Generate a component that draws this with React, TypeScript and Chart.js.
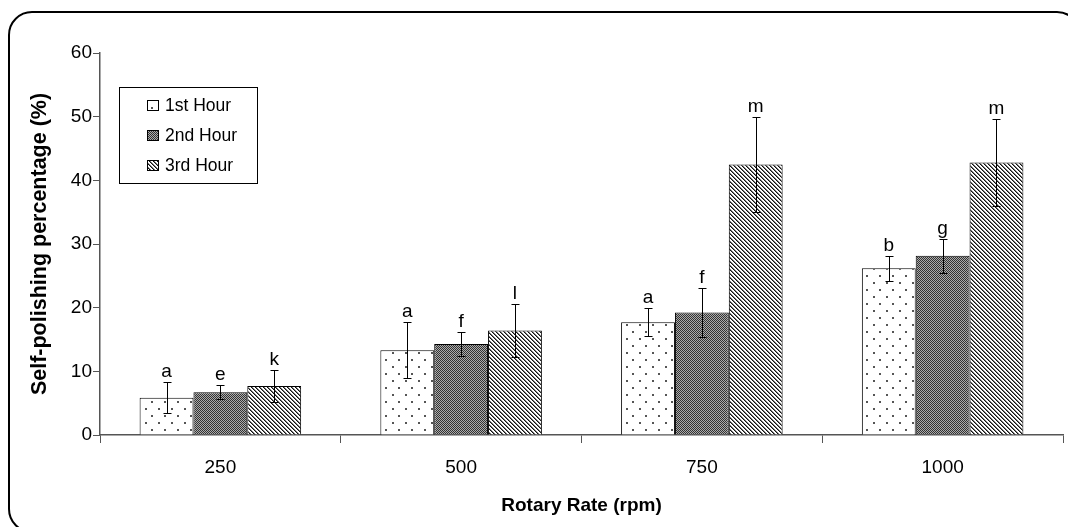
import React, { useEffect, useRef } from "react";
import { Chart, registerables } from "chart.js";

Chart.register(...registerables);

const categories = ["250", "500", "750", "1000"];
const seriesNames = ["1st Hour", "2nd Hour", "3rd Hour"];
const hour1 = [5.85, 13.3, 17.7, 26.2];
const hour2 = [6.7, 14.3, 19.25, 28.15];
const hour3 = [7.7, 16.4, 42.5, 42.8];
const err1 = [2.4, 4.4, 2.2, 1.95];
const err2 = [1.1, 1.85, 3.85, 2.65];
const err3 = [2.5, 4.1, 7.4, 6.8];
const letters1 = ["a", "a", "a", "b"];
const letters2 = ["e", "f", "f", "g"];
const letters3 = ["k", "l", "m", "m"];
const yTicks = [0, 10, 20, 30, 40, 50, 60];

const FONT = "'Liberation Sans', Arial, sans-serif";
const AXIS = "#555555";

function makeTile(w: number, h: number, draw: (c: CanvasRenderingContext2D) => void): CanvasPattern {
  const cv = document.createElement("canvas");
  cv.width = w;
  cv.height = h;
  const c = cv.getContext("2d")!;
  draw(c);
  const p = document.createElement("canvas").getContext("2d")!.createPattern(cv, "repeat")!;
  return p;
}

function makePatterns(): CanvasPattern[] {
  const dots = makeTile(13, 14, (c) => {
    c.fillStyle = "#ffffff";
    c.fillRect(0, 0, 13, 14);
    c.fillStyle = "#555555";
    c.fillRect(2, 2, 2, 2);
    c.fillRect(8, 9, 2, 2);
  });
  const checker = makeTile(2, 2, (c) => {
    c.fillStyle = "#acacac";
    c.fillRect(0, 0, 2, 2);
    c.fillStyle = "#333333";
    c.fillRect(0, 0, 1, 1);
    c.fillRect(1, 1, 1, 1);
  });
  const stripes = makeTile(4, 4, (c) => {
    c.fillStyle = "#ffffff";
    c.fillRect(0, 0, 4, 4);
    for (let i = 0; i < 4; i++) {
      c.fillStyle = "#111111";
      c.fillRect(i, i, 1, 1);
      c.fillStyle = "#777777";
      c.fillRect((i + 1) % 4, i, 1, 1);
    }
  });
  return [dots, checker, stripes];
}

export default function App() {
  const ref = useRef<HTMLCanvasElement | null>(null);

  useEffect(() => {
    const canvas = ref.current;
    if (!canvas) return;
    const patterns = makePatterns();
    const values = [hour1, hour2, hour3];
    const errors = [err1, err2, err3];
    const letters = [letters1, letters2, letters3];

    const framePlugin = {
      id: "frame",
      beforeDraw(chart: any) {
        const ctx = chart.ctx as CanvasRenderingContext2D;
        ctx.save();
        ctx.fillStyle = "#ffffff";
        ctx.fillRect(0, 0, chart.width, chart.height);
        ctx.beginPath();
        (ctx as any).roundRect(9, 12, 1071, 520, 23);
        ctx.lineWidth = 2;
        ctx.strokeStyle = "#000000";
        ctx.stroke();
        ctx.restore();
      },
    };

    const errorPlugin = {
      id: "errorbars",
      afterDatasetsDraw(chart: any) {
        const ctx = chart.ctx as CanvasRenderingContext2D;
        const ys = chart.scales.y;
        ctx.save();
        ctx.strokeStyle = "#000000";
        ctx.lineWidth = 1;
        ctx.fillStyle = "#000000";
        ctx.font = `19px ${FONT}`;
        ctx.textAlign = "center";
        ctx.textBaseline = "alphabetic";
        values.forEach((vals, i) => {
          const meta = chart.getDatasetMeta(i);
          vals.forEach((v, j) => {
            const bar = meta.data[j];
            const x = Math.round(bar.x) + 0.5;
            const yt = Math.round(ys.getPixelForValue(v + errors[i][j])) + 0.5;
            const yb = Math.round(ys.getPixelForValue(v - errors[i][j])) + 0.5;
            ctx.beginPath();
            ctx.moveTo(x, yt);
            ctx.lineTo(x, yb);
            ctx.moveTo(x - 4, yt);
            ctx.lineTo(x + 4, yt);
            ctx.moveTo(x - 4, yb);
            ctx.lineTo(x + 4, yb);
            ctx.stroke();
            ctx.fillText(letters[i][j], bar.x, yt - 6);
          });
        });
        ctx.restore();
      },
    };

    const legendPlugin = {
      id: "insideLegend",
      afterDraw(chart: any) {
        const ctx = chart.ctx as CanvasRenderingContext2D;
        ctx.save();
        ctx.strokeStyle = "#000000";
        ctx.lineWidth = 1;
        ctx.strokeRect(119.5, 87.5, 138, 96);
        ctx.font = `17.5px ${FONT}`;
        ctx.textBaseline = "middle";
        ctx.textAlign = "left";
        seriesNames.forEach((name, i) => {
          const cy = 105 + i * 30;
          ctx.fillStyle = patterns[i];
          ctx.fillRect(147, cy - 5, 12, 11);
          ctx.strokeStyle = "#000000";
          ctx.strokeRect(147.5, cy - 4.5, 11, 10);
          ctx.fillStyle = "#000000";
          ctx.fillText(name, 165, cy + 1);
        });
        ctx.restore();
      },
    };

    const chart = new Chart(canvas, {
      type: "bar",
      data: {
        labels: categories,
        datasets: seriesNames.map((name, i) => ({
          label: name,
          data: values[i],
          backgroundColor: patterns[i] as any,
          borderColor: "#000000",
          borderWidth: 1,
          categoryPercentage: 0.671,
          barPercentage: 1.0,
        })),
      },
      options: {
        animation: false,
        responsive: false,
        maintainAspectRatio: false,
        layout: { padding: { top: 53, right: 5, left: 0, bottom: 0 } },
        font: { family: FONT },
        plugins: {
          legend: { display: false },
          tooltip: { enabled: false },
        },
        scales: {
          x: {
            grid: {
              display: true,
              drawOnChartArea: false,
              drawTicks: true,
              tickLength: 8,
              offset: true,
              color: AXIS,
              lineWidth: 1,
            },
            border: { display: true, color: AXIS, width: 1.5 },
            ticks: { font: { size: 19, family: FONT }, color: "#000000", padding: 13 },
            title: {
              display: true,
              text: "Rotary Rate (rpm)",
              font: { size: 19, weight: "bold", family: FONT },
              color: "#000000",
              padding: { top: 0, bottom: 10 },
            },
            afterFit: (s: any) => {
              s.height = 92;
            },
          },
          y: {
            min: 0,
            max: 60,
            afterBuildTicks: (s: any) => {
              s.ticks = yTicks.map((v) => ({ value: v }));
            },
            grid: {
              display: true,
              drawOnChartArea: false,
              drawTicks: true,
              tickLength: 7,
              color: AXIS,
              lineWidth: 1,
            },
            border: { display: true, color: AXIS, width: 1.5 },
            ticks: { font: { size: 19, family: FONT }, color: "#000000", padding: 1 },
            title: {
              display: true,
              text: "Self-polishing percentage (%)",
              font: { size: 21.5, weight: "bold", family: FONT },
              color: "#000000",
              padding: { top: 27, bottom: 0 },
            },
            afterFit: (s: any) => {
              s.width = 100;
            },
          },
        },
      } as any,
      plugins: [framePlugin, errorPlugin, legendPlugin],
    });

    return () => {
      chart.destroy();
    };
  }, []);

  return (
    <div style={{ position: "absolute", left: 0, top: 0, width: 1068, height: 527 }}>
      <canvas ref={ref} width={1068} height={527} style={{ display: "block" }} />
    </div>
  );
}
